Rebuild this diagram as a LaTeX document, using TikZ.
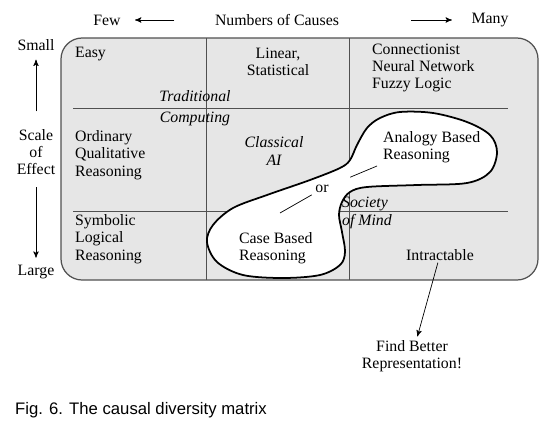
\documentclass[tikz,border=0pt]{standalone}
\usepackage{fontspec}
\setmainfont{Liberation Serif}
\newfontfamily\capfont{Liberation Sans}
\usepackage{tikz}
\usetikzlibrary{arrows}

\definecolor{cellgray}{HTML}{E6E6E6}
\definecolor{rulegray}{HTML}{505050}

\begin{document}
\begin{tikzpicture}[x=0.02cm,y=-0.02cm,>=stealth',inner sep=1pt,
  font=\fontsize{9}{9.8}\selectfont,
  cell/.style={align=left,anchor=west},
  mid/.style={align=center},
  slant/.style={align=center,font=\fontsize{9}{9.8}\selectfont\itshape}]

\useasboundingbox (0,0) rectangle (554,430);

\draw[rounded corners=12,fill=cellgray,draw=rulegray,line width=0.7pt] (61,38) rectangle (538,280);
\foreach \x in {206,349}
  \draw[rulegray,line width=0.5pt] (\x,38) -- (\x,280);
\foreach \y in {108,211}
  \draw[rulegray,line width=0.5pt] (73,\y) -- (508,\y);

\draw[line width=1pt,fill=white] plot[smooth cycle,tension=0.55] coordinates {
  (380,118) (400,112) (433,113) (467,122) (490,135) (497,152) (490,172)
  (467,183) (417,185) (367,187) (350,192) (342,202) (339,215) (342,232)
  (345,252) (340,265) (320,275) (283,278) (243,275) (217,262) (207,242)
  (213,225) (233,208) (267,195) (310,180) (340,168) (350,160) (357,145)
  (367,128)};

\node (few) at (107,20) {Few};
\node (causes) at (277,20) {Numbers of Causes};
\node (many) at (490,20) {Many};
\node (small) at (36,45) {Small};
\node[mid] (scale) at (36,152) {Scale\\of\\Effect};
\node (large) at (36,272) {Large};

\node[cell] (easy) at (73,54) {Easy};
\node[mid] (linear) at (278,62) {Linear,\\Statistical};
\node[cell] (conn) at (370,68) {Connectionist\\Neural Network\\Fuzzy Logic};
\node[slant] (trad) at (195,108) {Traditional\\[2pt]Computing};
\node[cell] (ordinary) at (73,155) {Ordinary\\Qualitative\\Reasoning};
\node[slant] (classical) at (274,151) {Classical\\AI};
\node[cell] (analogy) at (381,147) {Analogy Based\\Reasoning};
\node (or) at (322,189) {or};
\node[cell,font=\fontsize{9}{9.8}\selectfont\itshape] (society) at (340,213) {Society\\of Mind};
\node[cell] (symbolic) at (73,239) {Symbolic\\Logical\\Reasoning};
\node[cell] (case) at (237,248) {Case Based\\Reasoning};
\node (intract) at (440,255) {Intractable};
\node[mid] (find) at (412,356) {Find Better\\Representation!};

\node[anchor=west,font=\capfont\fontsize{9.5}{11}\selectfont] (caption) at (13,410) {Fig. 6. The causal diversity matrix};

\coordinate (caseend) at (280,213);
\coordinate (analogyend) at (377,166);

\path[thin]
  (causes) edge[->,shorten <=22pt,shorten >=7pt] (few)
  (causes) edge[->,shorten <=40pt,shorten >=10pt] (many)
  (scale) edge[->,shorten <=9pt,shorten >=4pt] (small)
  (scale) edge[->,shorten <=6pt,shorten >=3pt] (large)
  (intract) edge[->,shorten >=1pt] (find)
  (or) edge[shorten <=1pt] (caseend)
  (or) edge[shorten <=12pt] (analogyend);

\end{tikzpicture}
\end{document}
